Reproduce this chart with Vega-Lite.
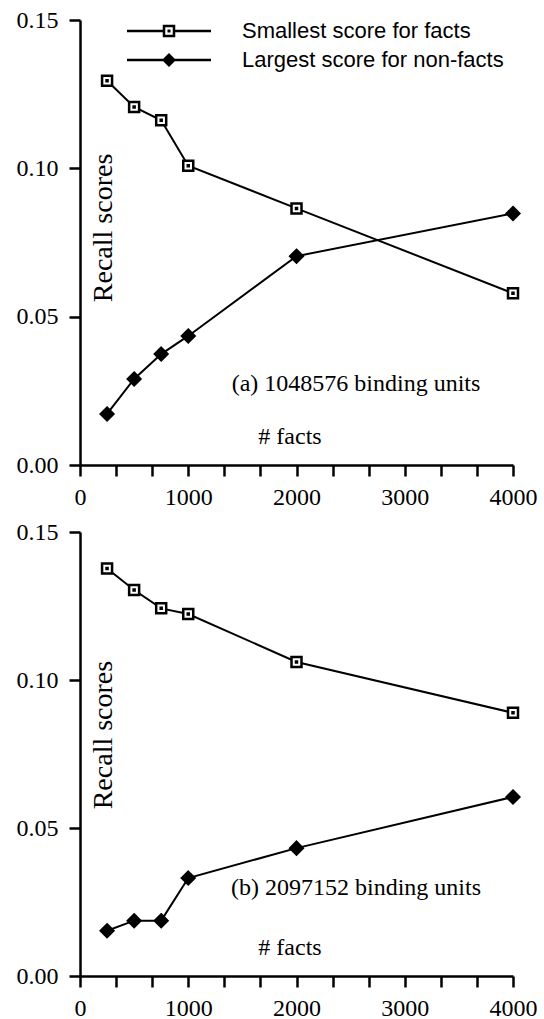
{
  "$schema": "https://vega.github.io/schema/vega-lite/v6.json",
  "padding": {"left": 16, "top": 8, "right": 4, "bottom": 4},
  "background": "white",
  "datasets": {
    "a": [
      {"series": "Smallest score for facts", "facts": 250, "score": 0.1295},
      {"series": "Smallest score for facts", "facts": 500, "score": 0.1207},
      {"series": "Smallest score for facts", "facts": 750, "score": 0.1162},
      {"series": "Smallest score for facts", "facts": 1000, "score": 0.1009},
      {"series": "Smallest score for facts", "facts": 2000, "score": 0.0865},
      {"series": "Smallest score for facts", "facts": 4000, "score": 0.0579},
      {"series": "Largest score for non-facts", "facts": 250, "score": 0.0172},
      {"series": "Largest score for non-facts", "facts": 500, "score": 0.0290},
      {"series": "Largest score for non-facts", "facts": 750, "score": 0.0374},
      {"series": "Largest score for non-facts", "facts": 1000, "score": 0.0435},
      {"series": "Largest score for non-facts", "facts": 2000, "score": 0.0704},
      {"series": "Largest score for non-facts", "facts": 4000, "score": 0.0848}
    ],
    "b": [
      {"series": "Smallest score for facts", "facts": 250, "score": 0.1377},
      {"series": "Smallest score for facts", "facts": 500, "score": 0.1304},
      {"series": "Smallest score for facts", "facts": 750, "score": 0.1242},
      {"series": "Smallest score for facts", "facts": 1000, "score": 0.1223},
      {"series": "Smallest score for facts", "facts": 2000, "score": 0.1061},
      {"series": "Smallest score for facts", "facts": 4000, "score": 0.0889},
      {"series": "Largest score for non-facts", "facts": 250, "score": 0.0153},
      {"series": "Largest score for non-facts", "facts": 500, "score": 0.0187},
      {"series": "Largest score for non-facts", "facts": 750, "score": 0.0187},
      {"series": "Largest score for non-facts", "facts": 1000, "score": 0.0331},
      {"series": "Largest score for non-facts", "facts": 2000, "score": 0.0432},
      {"series": "Largest score for non-facts", "facts": 4000, "score": 0.0605}
    ]
  },
  "config": {
    "view": {"stroke": null},
    "axis": {
      "domainColor": "black", "domainWidth": 2.5,
      "tickColor": "black", "tickWidth": 2.5,
      "labelColor": "black", "labelFont": "Liberation Serif", "labelFontSize": 24,
      "grid": false, "title": null
    }
  },
  "resolve": {"scale": {"shape": "independent", "fill": "independent"}},
  "spacing": 11,
  "vconcat": [
    {
      "width": 433, "height": 445,
      "resolve": {"scale": {"shape": "independent", "fill": "independent"}},
      "layer": [
        {
          "data": {"name": "a"},
          "mark": {"type": "line", "color": "black", "strokeWidth": 2},
          "encoding": {
            "x": {"field": "facts", "type": "quantitative", "scale": {"domain": [0, 4000], "nice": false, "zero": false},
                  "axis": {"values": [0, 333.33, 666.67, 1000, 1333.33, 1666.67, 2000, 2333.33, 2666.67, 3000, 3333.33, 3666.67, 4000],
                           "tickCount": 30,
                           "labelExpr": "datum.value % 1000 === 0 ? format(datum.value, 'd') : ''",
                           "labelOverlap": false, "tickSize": 11, "labelPadding": 9, "labelFlush": false,
                           "encode": {"ticks": {"y": {"value": {"expr": "datum.value % 1000 === 0 ? 0 : 1.5"}}, "y2": {"value": {"expr": "datum.value % 1000 === 0 ? 11 : 7"}}}}}},
            "y": {"field": "score", "type": "quantitative", "scale": {"domain": [0, 0.15], "nice": false},
                  "axis": {"values": [0, 0.05, 0.1, 0.15], "format": ".2f", "tickSize": 11, "labelPadding": 11}},
            "detail": {"field": "series"}
          }
        },
        {
          "data": {"name": "a"},
          "transform": [{"filter": "false"}],
          "mark": {"type": "point", "filled": true, "color": "black", "opacity": 1},
          "encoding": {
            "x": {"field": "facts", "type": "quantitative"},
            "y": {"field": "score", "type": "quantitative"},
            "shape": {
              "field": "series", "type": "nominal",
              "scale": {"domain": ["Smallest score for facts", "Largest score for non-facts"],
                        "range": ["M-1,-0.03H-0.143V0.03H-1ZM0.143,-0.03H1V0.03H0.143ZM-0.149,-0.149H0.149V0.149H-0.149ZM-0.089,-0.089V0.089H0.089V-0.089ZM-0.036,-0.036H0.036V0.036H-0.036Z",
                                  "M-1,-0.03H1V0.03H-1ZM0,-0.167L0.167,0L0,0.167L-0.167,0Z"]},
              "legend": {
                "orient": "none", "legendX": 47, "legendY": -1, "title": null, "padding": 0,
                "symbolSize": 7056, "clipHeight": 24, "rowPadding": 5, "labelOffset": 31,
                "labelFont": "Liberation Sans", "labelFontSize": 22, "labelColor": "black", "labelLimit": 400,
                "symbolFillColor": "black", "symbolStrokeWidth": 0, "symbolOpacity": 1
              }
            }
          }
        },
        {
          "data": {"name": "a"},
          "mark": {"type": "point", "filled": true, "size": 100, "stroke": "black", "strokeWidth": 2.5, "opacity": 1},
          "encoding": {
            "x": {"field": "facts", "type": "quantitative"},
            "y": {"field": "score", "type": "quantitative"},
            "shape": {
              "field": "series", "type": "nominal",
              "scale": {"domain": ["Smallest score for facts", "Largest score for non-facts"],
                        "range": ["M-1,-1H1V1H-1ZM-0.1,-0.1H0.1V0.1H-0.1Z", "M0,-1.25L1.25,0L0,1.25L-1.25,0Z"]},
              "legend": null
            },
            "fill": {
              "field": "series", "type": "nominal",
              "scale": {"domain": ["Smallest score for facts", "Largest score for non-facts"], "range": ["white", "black"]},
              "legend": null
            }
          }
        },
        {
          "data": {"values": [{}]},
          "mark": {"type": "text", "font": "Liberation Serif", "fontSize": 24, "color": "black", "text": "(a) 1048576 binding units"},
          "encoding": {"x": {"datum": 2550}, "y": {"datum": 0.0273}}
        },
        {
          "data": {"values": [{}]},
          "mark": {"type": "text", "font": "Liberation Serif", "fontSize": 24, "color": "black", "text": "# facts"},
          "encoding": {"x": {"datum": 1940}, "y": {"datum": 0.0094}}
        },
        {
          "data": {"values": [{}]},
          "mark": {"type": "text", "font": "Liberation Serif", "fontSize": 28, "color": "black", "angle": 270, "text": "Recall scores"},
          "encoding": {"x": {"datum": 222}, "y": {"datum": 0.0799}}
        }
      ]
    },
    {
      "width": 433, "height": 444,
      "layer": [
        {
          "data": {"name": "b"},
          "mark": {"type": "line", "color": "black", "strokeWidth": 2},
          "encoding": {
            "x": {"field": "facts", "type": "quantitative", "scale": {"domain": [0, 4000], "nice": false, "zero": false},
                  "axis": {"values": [0, 333.33, 666.67, 1000, 1333.33, 1666.67, 2000, 2333.33, 2666.67, 3000, 3333.33, 3666.67, 4000],
                           "tickCount": 30,
                           "labelExpr": "datum.value % 1000 === 0 ? format(datum.value, 'd') : ''",
                           "labelOverlap": false, "tickSize": 11, "labelPadding": 9, "labelFlush": false,
                           "encode": {"ticks": {"y": {"value": {"expr": "datum.value % 1000 === 0 ? 0 : 1.5"}}, "y2": {"value": {"expr": "datum.value % 1000 === 0 ? 11 : 7"}}}}}},
            "y": {"field": "score", "type": "quantitative", "scale": {"domain": [0, 0.15], "nice": false},
                  "axis": {"values": [0, 0.05, 0.1, 0.15], "format": ".2f", "tickSize": 11, "labelPadding": 11}},
            "detail": {"field": "series"}
          }
        },
        {
          "data": {"name": "b"},
          "mark": {"type": "point", "filled": true, "size": 100, "stroke": "black", "strokeWidth": 2.5, "opacity": 1},
          "encoding": {
            "x": {"field": "facts", "type": "quantitative"},
            "y": {"field": "score", "type": "quantitative"},
            "shape": {
              "field": "series", "type": "nominal",
              "scale": {"domain": ["Smallest score for facts", "Largest score for non-facts"],
                        "range": ["M-1,-1H1V1H-1ZM-0.1,-0.1H0.1V0.1H-0.1Z", "M0,-1.25L1.25,0L0,1.25L-1.25,0Z"]},
              "legend": null
            },
            "fill": {
              "field": "series", "type": "nominal",
              "scale": {"domain": ["Smallest score for facts", "Largest score for non-facts"], "range": ["white", "black"]},
              "legend": null
            }
          }
        },
        {
          "data": {"values": [{}]},
          "mark": {"type": "text", "font": "Liberation Serif", "fontSize": 24, "color": "black", "text": "(b) 2097152 binding units"},
          "encoding": {"x": {"datum": 2550}, "y": {"datum": 0.0297}}
        },
        {
          "data": {"values": [{}]},
          "mark": {"type": "text", "font": "Liberation Serif", "fontSize": 24, "color": "black", "text": "# facts"},
          "encoding": {"x": {"datum": 1940}, "y": {"datum": 0.0095}}
        },
        {
          "data": {"values": [{}]},
          "mark": {"type": "text", "font": "Liberation Serif", "fontSize": 28, "color": "black", "angle": 270, "text": "Recall scores"},
          "encoding": {"x": {"datum": 222}, "y": {"datum": 0.0814}}
        }
      ]
    }
  ]
}
